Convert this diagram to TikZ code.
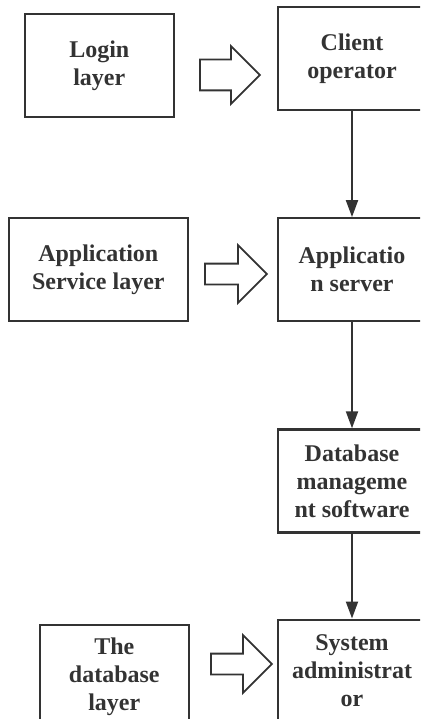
\documentclass[tikz,border=0pt]{standalone}
\usepackage{fontspec}
\setmainfont{Liberation Serif}
\usetikzlibrary{arrows.meta,positioning,shapes.arrows}
\definecolor{inkgray}{HTML}{333333}
\tikzset{
    %Define standard arrow tip
    >={Triangle[length=17pt,width=12pt]},
    %Define style for boxes
    layerbox/.style={
           rectangle,
           draw=inkgray, line width=2.2pt,
           text=inkgray,
           font=\fontsize{24}{28}\selectfont\bfseries,
           minimum height=103pt,
           minimum width=148pt,
           align=center},
    % Define style for hollow block arrows
    hollow/.style={
           single arrow,
           draw=inkgray, line width=1.8pt,
           fill=white,
           anchor=tail,
           inner xsep=0pt,
           minimum height=61pt,
           minimum width=56pt},
    % Define arrow style
    pil/.style={
           ->,
           draw=inkgray,
           line width=2pt}
}

\begin{document}
\begin{tikzpicture}[x=1pt, y=1pt]
        \clip (0,0) rectangle (420,-719);
        %nodes

        % Client operator node
        \node[layerbox]
        (client) at (352,-58.5)
        {Client\\operator}
        ;

        % Application server node
        \node[layerbox, below=106pt of client]
        (appserver)
        {Applicatio\\n server}
        ;

        % Database management software node
        \node[layerbox, below=106pt of appserver]
        (dbms)
        {Database\\manageme\\nt software}
        ;

        % System administrator node
        \node[layerbox, below=85pt of dbms]
        (sysadmin)
        {System\\administrat\\or}
        ;

        % Login layer node
        \node[layerbox, minimum width=149pt, left=102pt of client, yshift=-7pt]
        (login)
        {Login\\layer}
        ;

        % Application Service layer node
        \node[layerbox, minimum width=179pt, left=88pt of appserver]
        (appservice)
        {Application\\Service layer}
        ;

        % The database layer node
        \node[layerbox, minimum width=149pt, left=87pt of sysadmin, yshift=-5.5pt]
        (dblayer)
        {The\\database\\layer}
        ;

        % hollow arrows between the layers and the right column
        \node[hollow, inner ysep=14.5pt, single arrow head extend=13.5pt, minimum height=60pt] (h1) at (199,-75) {};
        \node[hollow, inner ysep=9.5pt, single arrow head extend=18.5pt, minimum height=62pt] (h2) at (204,-274) {};
        \node[hollow, inner ysep=9.5pt, single arrow head extend=18.5pt] (h3) at (210,-664) {};

        % Client operator and Application server
        \draw[pil] (client) -- (appserver);

        % Application server and Database management software
        \draw[pil] (appserver) -- (dbms);

        % Database management software and System administrator
        \draw[pil] (dbms) -- (sysadmin);

    \end{tikzpicture}
\end{document}
